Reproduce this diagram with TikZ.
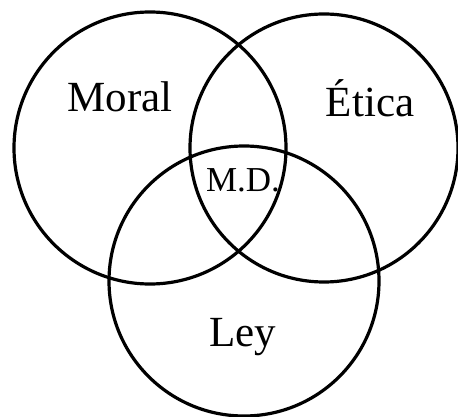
\documentclass[tikz,border=0pt]{standalone}
\usepackage{fontspec}
\setmainfont{Liberation Serif}
\begin{document}
\begin{tikzpicture}[x=1pt,y=-1pt,
  ring/.style={draw=black,line width=3.2pt,circle,inner sep=0pt},
  big/.style={font=\fontsize{43}{45}\selectfont,inner sep=0pt},
  small/.style={font=\fontsize{35}{37}\selectfont,inner sep=0pt}]
\useasboundingbox (0,0) rectangle (458,417);
\node[ring,minimum size=272pt] (moral) at (150,148) {};
\node[ring,minimum size=268pt] (etica) at (324,148) {};
\node[ring,minimum size=270pt] (ley) at (244,281) {};
\node[big] (tmoral) at (120,97) {Moral};
\node[big] (tetica) at (370,98) {Ética};
\node[big] (tley) at (243,337) {Ley};
\node[small] (tmd) at (243,180) {M.D.};
\end{tikzpicture}
\end{document}
